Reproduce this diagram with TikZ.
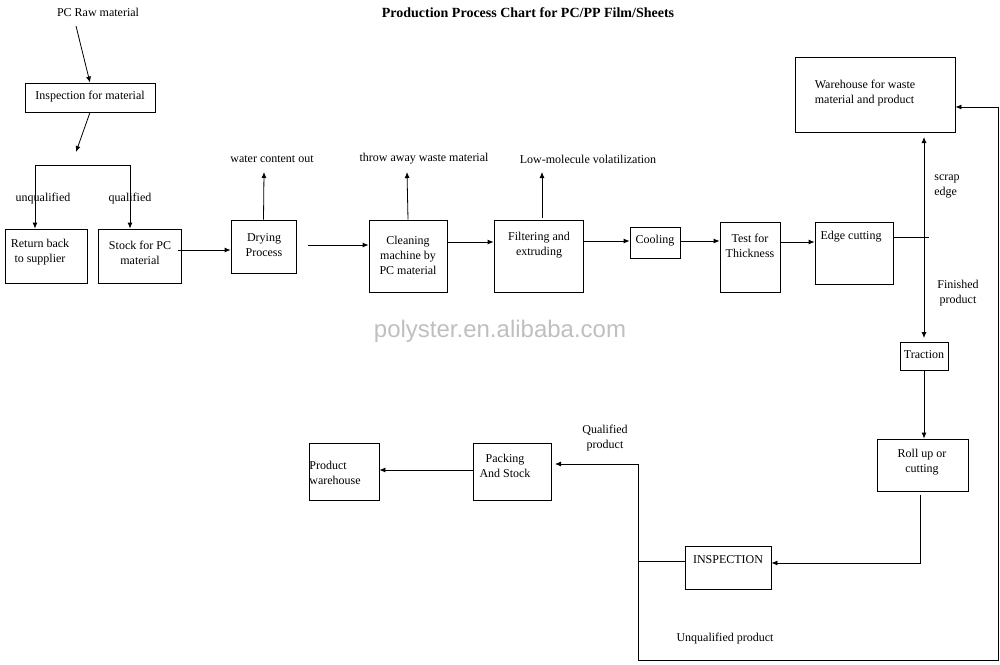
\documentclass[tikz,border=0pt]{standalone}
\usepackage{fontspec}
\setmainfont{Liberation Serif}
\newfontfamily\wmfont{Liberation Sans}
\usetikzlibrary{arrows.meta}
\newcommand{\bx}[5]{\node[box,minimum width={#4-#2},minimum height={#5-#3}] (#1) at ({(#2+#4)/2},{(#3+#5)/2}) {};}
\begin{document}
\begin{tikzpicture}[x=1pt,y=-1pt,
  box/.style={draw,line width=0.8pt,inner sep=0pt},
  txt/.style={font=\fontsize{12}{15}\selectfont,align=center,inner sep=0pt},
  ln/.style={line width=0.8pt},
  ar/.style={line width=0.8pt,-{Latex[length=6pt,width=5pt]}}]
\useasboundingbox (0,0) rectangle (1000,664);
\node[font=\bfseries\fontsize{14}{16}\selectfont] (title) at (528,13) {Production Process Chart for PC/PP Film/Sheets};
\node[font=\wmfont\fontsize{24}{26}\selectfont,text=black!25] (wm) at (500,331) {polyster.en.alibaba.com};
% boxes
\bx{insp}{25}{83}{155}{112}
\bx{ret}{5}{229}{87}{283}
\bx{stock}{98}{229}{181}{283}
\bx{dry}{231}{220}{296}{273}
\bx{clean}{369}{220}{447}{292}
\bx{filt}{494}{220}{583}{292}
\bx{cool}{630}{227}{680}{258}
\bx{test}{720}{222}{780}{292}
\bx{edge}{815}{222}{893}{284}
\bx{ware}{795}{57}{955}{132}
\bx{trac}{900}{342}{948}{370}
\bx{roll}{877}{439}{968}{491}
\bx{inspB}{685}{546}{771}{589}
\bx{pack}{473}{443}{551}{500}
\bx{prodw}{309}{443}{379}{500}
% box texts
\node[txt] (tinsp) at (90,97) {Inspection for material};
\node[txt] (tret) at (40,252) {Return back\\to supplier};
\node[txt] (tstock) at (140,253) {Stock for PC\\material};
\node[txt] (tdry) at (264,245) {Drying\\Process};
\node[txt] (tclean) at (408,255) {Cleaning\\machine by\\PC material};
\node[txt] (tfilt) at (539,245) {Filtering and\\extruding};
\node[txt] (tcool) at (655,241) {Cooling};
\node[txt] (ttest) at (750,246) {Test for\\Thickness};
\node[txt] (tedge) at (851,237) {Edge cutting};
\node[txt,align=left] (tware) at (865,93) {Warehouse for waste\\material and product};
\node[txt] (ttrac) at (924,355) {Traction};
\node[txt] (troll) at (922,462) {Roll up or\\cutting};
\node[txt] (tinspB) at (728,560) {INSPECTION};
\node[txt] (tpack) at (505,466) {Packing\\And Stock};
\node[txt,align=left] (tprodw) at (335,473) {Product\\warehouse};
% free texts
\node[txt] (raw) at (98,12) {PC Raw material};
\node[txt] (unq) at (43,199) {unqualified};
\node[txt] (qual) at (130,199) {qualified};
\node[txt] (water) at (272,159) {water content out};
\node[txt] (waste) at (424,159) {throw away waste material};
\node[txt] (lowm) at (588,159) {Low-molecule volatilization};
\node[txt,align=left] (scrap) at (947,186) {scrap\\edge};
\node[txt] (fin) at (958,293) {Finished\\product};
\node[txt] (qprod) at (605,438) {Qualified\\product};
\node[txt] (uprod) at (725,639) {Unqualified product};
% coordinates
\coordinate (split) at (76,165);
\coordinate (dryout) at (308,245);
\coordinate (edgeend) at (929,237);
\coordinate (vtop) at (924,137);
\coordinate (vbot) at (924,338);
\coordinate (c1) at (638,561);
\coordinate (c2) at (638,464);
% connectors
\draw[ar] (76,26) -- (insp.north);
\draw[ar] (insp.south) -- (76,152);
\draw[ln] (35,165) -- (130,165);
\draw[ar] (35,165) -- (ret.north -| 35,0);
\draw[ar] (130,165) -- (stock.north -| 130,0);
\draw[ar] (178,250) -- (dry.west |- 0,250);
\draw[ar] (dry.north) -- (264,172);
\draw[ar] (dryout) -- (clean.west |- dryout);
\draw[ar] (clean.north) -- (407,172);
\draw[ar] (clean.east |- 0,242) -- (filt.west |- 0,242);
\draw[ar] (542,218) -- (542,172);
\draw[ar] (filt.east |- 0,241) -- (cool.west |- 0,241);
\draw[ar] (cool.east |- 0,241) -- (test.west |- 0,241);
\draw[ar] (test.east |- 0,242) -- (edge.west |- 0,242);
\draw[ln] (edge.east |- edgeend) -- (edgeend);
\draw[line width=0.8pt,{Latex[length=6pt,width=5pt]}-{Latex[length=6pt,width=5pt]}] (vtop) -- (vbot);
\draw[ar] (trac.south) -- (roll.north -| trac.south);
\draw[ar] (920,495) -- (920,563) -- (inspB.east |- 0,563);
\draw[ln] (inspB.west |- c1) -- (c1);
\draw[ar] (c2) -- (638,660) -- (998,660) -- (998,107) -- (ware.east |- 0,107);
\draw[ar] (c2) -- (555,464);
\draw[ar] (pack.west |- 0,470) -- (prodw.east |- 0,470);
\end{tikzpicture}
\end{document}
